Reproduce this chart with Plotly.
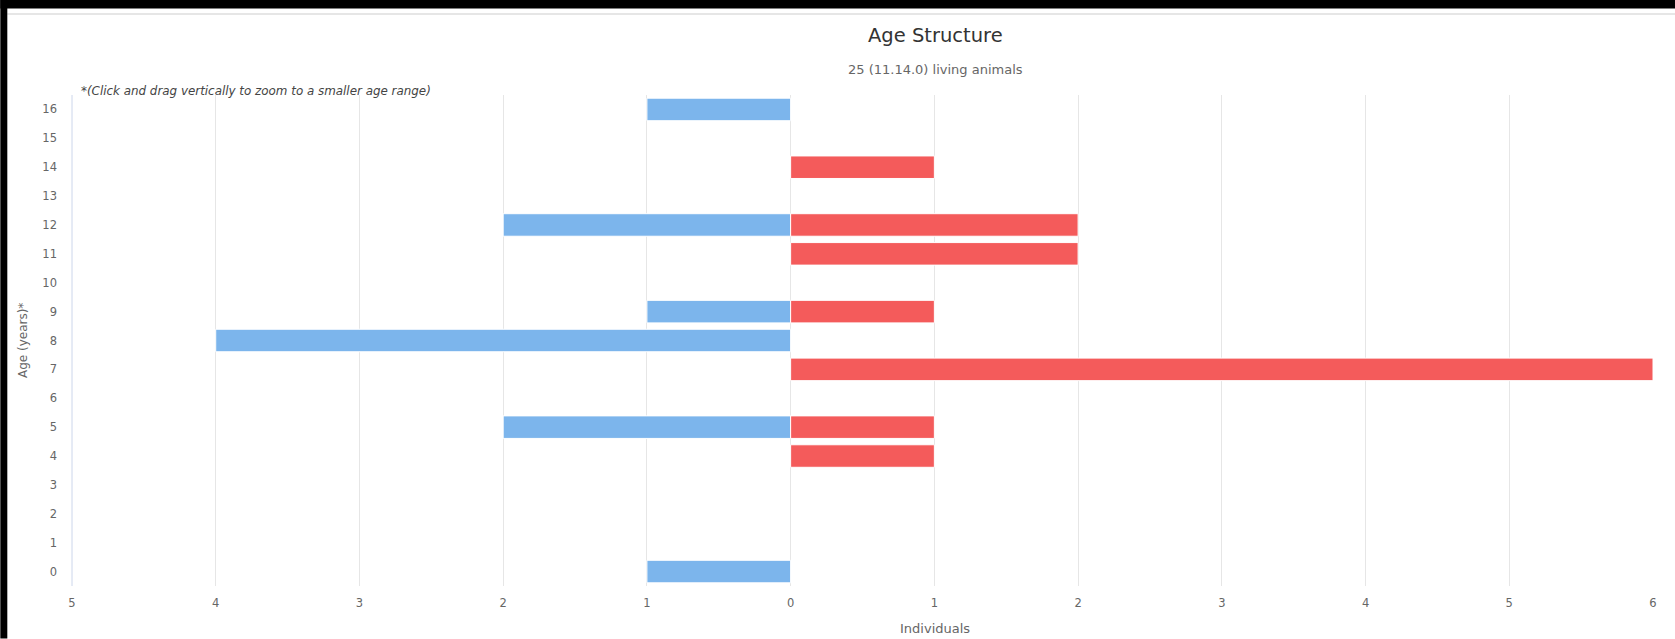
import plotly.graph_objects as go

# ---- data ----
ages = list(range(0, 17))
male_ages = [16, 12, 9, 8, 5, 0]
male_counts = [1, 2, 1, 4, 2, 1]
female_ages = [14, 12, 11, 9, 7, 5, 4]
female_counts = [1, 2, 2, 1, 6, 1, 1]
x_ticks = [-5, -4, -3, -2, -1, 0, 1, 2, 3, 4, 5, 6]
x_tick_labels = [str(abs(v)) for v in x_ticks]
title_text = "Age Structure"
subtitle_text = "25 (11.14.0) living animals"
note_text = "*(Click and drag vertically to zoom to a smaller age range)"

W, H = 1675, 639
L, R = 71.7, 1653.0
T, B = 95.0, 586.5
pw, ph = R - L, B - T


def px(x):
    return (x - L) / pw


def py(y):
    return (B - y) / ph


FONT = "DejaVu Sans"

fig = go.Figure()
fig.add_trace(go.Bar(
    y=male_ages, x=[-v for v in male_counts], orientation="h",
    marker=dict(color="#7cb5ec", line=dict(color="#ffffff", width=1)),
    width=0.78, name="Male", showlegend=False,
))
fig.add_trace(go.Bar(
    y=female_ages, x=female_counts, orientation="h",
    marker=dict(color="#f45b5b", line=dict(color="#ffffff", width=1)),
    width=0.78, name="Female", showlegend=False,
))

fig.update_layout(
    width=W, height=H,
    margin=dict(l=L, r=W - R, t=T, b=H - B, pad=0),
    paper_bgcolor="#ffffff", plot_bgcolor="#ffffff",
    barmode="relative",
    font=dict(family=FONT, color="#666666", size=11.5),
    xaxis=dict(
        range=[-5, 6], tickvals=x_ticks, ticktext=x_tick_labels,
        showgrid=True, gridcolor="#e6e6e6", gridwidth=1,
        zeroline=False, showline=False, ticks="",
        tickfont=dict(size=11.5, color="#666666"),
        ticklabelstandoff=8,
    ),
    yaxis=dict(
        range=[-0.5, 16.5], tickvals=ages, ticktext=[str(a) for a in ages],
        showgrid=False, zeroline=False, showline=False, ticks="",
        tickfont=dict(size=11.5, color="#666666"),
        ticklabelstandoff=14,
    ),
    shapes=[
        # axis line at left
        dict(type="line", xref="paper", yref="paper", x0=0, x1=0, y0=0, y1=1,
             line=dict(color="#ccd6eb", width=1)),
        # top thin grey line
        dict(type="line", xref="paper", yref="paper", x0=px(7), x1=px(W), y0=py(14), y1=py(14),
             line=dict(color="#e6e6e6", width=2)),
        # black bands (screenshot frame)
        dict(type="rect", xref="paper", yref="paper", x0=px(0), x1=px(W), y0=py(8.5), y1=py(0),
             fillcolor="#000000", line=dict(width=0)),
        dict(type="rect", xref="paper", yref="paper", x0=px(0), x1=px(7), y0=py(H), y1=py(0),
             fillcolor="#000000", line=dict(width=0)),
    ],
    annotations=[
        dict(text=title_text, xref="paper", yref="paper", x=px(935), y=py(35),
             xanchor="center", yanchor="middle", showarrow=False,
             font=dict(family=FONT, size=19.5, color="#333333")),
        dict(text=subtitle_text, xref="paper", yref="paper", x=px(935), y=py(69),
             xanchor="center", yanchor="middle", showarrow=False,
             font=dict(family=FONT, size=13, color="#666666")),
        dict(text="<i>" + note_text + "</i>", xref="paper", yref="paper", x=px(79), y=py(91),
             xanchor="left", yanchor="middle", showarrow=False,
             font=dict(family=FONT, size=11.9, color="#444444")),
        dict(text="Individuals", xref="paper", yref="paper", x=px(935), y=py(629),
             xanchor="center", yanchor="middle", showarrow=False,
             font=dict(family=FONT, size=13, color="#666666")),
        dict(text="Age (years)*", xref="paper", yref="paper", x=px(22), y=py(341),
             xanchor="center", yanchor="middle", showarrow=False, textangle=-90,
             font=dict(family=FONT, size=12, color="#666666")),
    ],
)

fig.write_html(
    "out.html",
    config={"displayModeBar": False},
    post_script="document.body.style.margin='0';document.body.style.overflow='hidden';",
)
